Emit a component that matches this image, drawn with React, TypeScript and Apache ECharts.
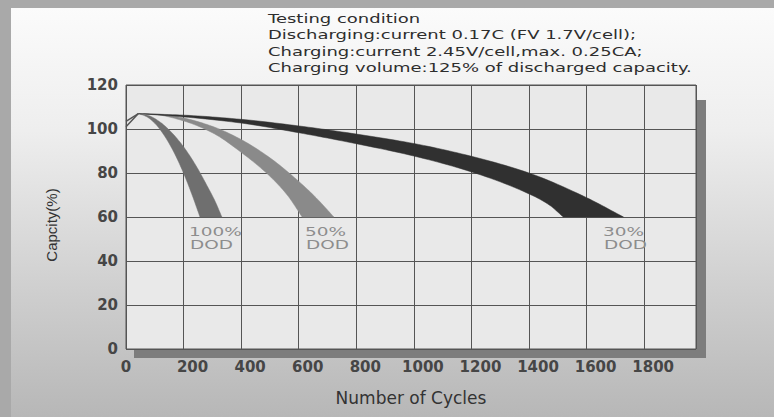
import React, { useEffect, useRef } from "react";
import * as echarts from "echarts";

// ---- data ----
const xTickLabels = [0, 200, 400, 600, 800, 1000, 1200, 1400, 1600, 1800];
const yTickLabels = [0, 20, 40, 60, 80, 100, 120];

const titleLines = [
  "Testing condition",
  "Discharging:current 0.17C (FV 1.7V/cell);",
  "Charging:current 2.45V/cell,max. 0.25CA;",
  "Charging volume:125% of discharged capacity.",
];

// initial rise (two thin lines) from cycle 0 to the peak
const riseUpper = [[0, 103.5], [43, 107]];
const riseLower = [[0, 101], [43, 107]];

// 100% DOD band
const dod100Outer = [[43, 107], [80, 106], [120, 103], [160, 98.2], [200, 91.9], [240, 84], [280, 74.6], [310, 67], [333, 60]];
const dod100Inner = [[43, 107], [70, 105.7], [100, 102.6], [130, 97.6], [165, 89.8], [200, 79.9], [230, 69.9], [257, 60]];

// 50% DOD band
const dod50Outer = [[43, 107], [100, 106.8], [192, 105.2], [300, 101.2], [400, 95.2], [500, 86.9], [600, 76.2], [660, 68.8], [722, 60]];
const dod50Inner = [[43, 107], [100, 106.6], [192, 104], [300, 98.3], [400, 89.4], [500, 78.5], [560, 70], [612, 60]];

// 30% DOD band
const dod30Outer = [[43, 107], [200, 106.3], [400, 104.4], [600, 101.4], [800, 97.7], [1000, 93.4], [1200, 87.6], [1400, 80], [1600, 68.8], [1728, 60]];
const dod30Inner = [[43, 107], [200, 105.5], [400, 102.7], [600, 98.3], [800, 93.3], [1000, 87.7], [1200, 80.5], [1400, 70.5], [1470, 65.5], [1519, 60]];

const dodLabels = ["100%", "50%", "30%"];

// ---- helpers ----
const measureCtx = typeof document !== "undefined" ? document.createElement("canvas").getContext("2d") : null;
function textWidth(t: string, font: string): number {
  if (!measureCtx) return t.length * 7;
  measureCtx.font = font;
  return measureCtx.measureText(t).width;
}

// monotone-ish cubic Hermite sampling in pixel space (rendering smoothness only)
function smoothPath(pts: number[][]): number[][] {
  const n = pts.length;
  if (n < 3) return pts.slice();
  const h: number[] = [];
  const d: number[] = [];
  for (let i = 0; i < n - 1; i++) {
    h.push(pts[i + 1][0] - pts[i][0]);
    d.push((pts[i + 1][1] - pts[i][1]) / h[i]);
  }
  const m: number[] = new Array(n);
  m[0] = d[0];
  m[n - 1] = d[n - 2];
  for (let i = 1; i < n - 1; i++) {
    if (d[i - 1] * d[i] <= 0) m[i] = 0;
    else {
      const w1 = 2 * h[i] + h[i - 1];
      const w2 = h[i] + 2 * h[i - 1];
      m[i] = (w1 + w2) / (w1 / d[i - 1] + w2 / d[i]);
    }
  }
  const out: number[][] = [];
  for (let i = 0; i < n - 1; i++) {
    const steps = 12;
    for (let k = 0; k < steps; k++) {
      const t = k / steps;
      const t2 = t * t;
      const t3 = t2 * t;
      const h00 = 2 * t3 - 3 * t2 + 1;
      const h10 = t3 - 2 * t2 + t;
      const h01 = -2 * t3 + 3 * t2;
      const h11 = t3 - t2;
      const x = pts[i][0] + t * h[i];
      const y = h00 * pts[i][1] + h10 * h[i] * m[i] + h01 * pts[i + 1][1] + h11 * h[i] * m[i + 1];
      out.push([x, y]);
    }
  }
  out.push(pts[n - 1]);
  return out;
}

function bandSeries(name: string, outer: number[][], inner: number[][], color: string) {
  return {
    type: "custom",
    name,
    coordinateSystem: "cartesian2d",
    silent: true,
    z: 3,
    data: [[0, 0]],
    renderItem: (_params: any, api: any) => {
      const top = smoothPath(outer.map((p) => api.coord(p)));
      const bottom = smoothPath(inner.map((p) => api.coord(p))).reverse();
      return {
        type: "polygon",
        shape: { points: top.concat(bottom) },
        style: { fill: color, stroke: color, lineWidth: 0.5 },
      };
    },
  };
}

const FONT = "DejaVu Sans";

export default function App() {
  const ref = useRef<HTMLDivElement>(null);

  useEffect(() => {
    document.body.style.margin = "0";
    if (!ref.current) return;
    const chart = echarts.init(ref.current, undefined, { renderer: "svg" });

    const W = 774;
    const H = 417;
    const gridLeft = 126;
    const gridTop = 85;
    const gridRight = 78;
    const gridBottom = 68;

    // title block
    const titleFont = `13px "${FONT}"`;
    const titleScale = 424 / textWidth(titleLines[3], titleFont);
    const titleY = [18, 34.5, 51, 67];

    // DOD labels
    const dodFont = `13px "${FONT}"`;
    const dodScale = 43 / textWidth("DOD", dodFont);
    const dodPos = [189, 305, 603];

    const graphics: any[] = [
      {
        type: "rect",
        z: -100,
        silent: true,
        shape: { x: 0, y: 0, width: W, height: H },
        style: { fill: "#a9a9a9" },
      },
      {
        type: "rect",
        z: -90,
        silent: true,
        shape: { x: 11, y: 8, width: W - 11, height: H - 8 },
        style: {
          fill: new echarts.graphic.LinearGradient(0, 0, 0, 1, [
            { offset: 0, color: "#fbfbfb" },
            { offset: 0.3, color: "#eeeeee" },
            { offset: 0.65, color: "#d2d2d2" },
            { offset: 1, color: "#b7b7b7" },
          ]),
        },
      },
      {
        type: "rect",
        z: -80,
        silent: true,
        shape: { x: gridLeft + 8, y: 100, width: W - gridRight - gridLeft + 2, height: H - gridBottom - 100 + 9 },
        style: { fill: "#7d7d7d" },
      },
    ];

    titleLines.forEach((t, i) => {
      graphics.push({
        type: "text",
        z: 10,
        silent: true,
        x: 268,
        y: titleY[i],
        scaleX: titleScale,
        style: {
          text: t,
          font: titleFont,
          fill: "#2e2e2e",
          textAlign: "left",
          textVerticalAlign: "middle",
        },
      });
    });

    dodLabels.forEach((t, i) => {
      graphics.push({
        type: "text",
        z: 10,
        silent: true,
        x: dodPos[i],
        y: 231.5,
        scaleX: dodScale,
        style: { text: t, font: dodFont, fill: "#8d8d8d", textAlign: "left", textVerticalAlign: "middle" },
      });
      graphics.push({
        type: "text",
        z: 10,
        silent: true,
        x: dodPos[i] + 1,
        y: 244.5,
        scaleX: dodScale,
        style: { text: "DOD", font: dodFont, fill: "#8d8d8d", textAlign: "left", textVerticalAlign: "middle" },
      });
    });

    const labelStyle = { fontFamily: FONT, fontSize: 15, fontWeight: "bold", color: "#464646" };

    const option: any = {
      animation: false,
      grid: {
        left: gridLeft,
        top: gridTop,
        right: gridRight,
        bottom: gridBottom,
        show: true,
        backgroundColor: "#e9e9e9",
        borderColor: "#555555",
        borderWidth: 1,
      },
      xAxis: {
        type: "value",
        min: 0,
        max: 1980,
        interval: 200,
        name: "Number of Cycles",
        nameLocation: "middle",
        nameGap: 40,
        nameTextStyle: { fontFamily: FONT, fontSize: 17, color: "#333333" },
        axisLine: { show: false },
        axisTick: { show: false },
        splitLine: { show: true, lineStyle: { color: "#555555", width: 1 } },
        axisLabel: {
          margin: 10,
          showMaxLabel: false,
          formatter: (v: number) => {
            if (!xTickLabels.includes(v)) return "";
            return v === 0 ? `{z|${v}}` : `{s|${v}}`;
          },
          rich: {
            z: { ...labelStyle },
            s: { ...labelStyle, padding: [0, 0, 0, 18] },
          },
        },
      },
      yAxis: {
        type: "value",
        min: 0,
        max: 120,
        interval: 20,
        name: "Capcity(%)",
        nameLocation: "middle",
        nameGap: 67,
        nameTextStyle: { fontFamily: "Liberation Sans", fontSize: 15, color: "#333333", padding: [0, 16, 0, 0] },
        axisLine: { show: false },
        axisTick: { show: false },
        splitLine: { show: true, lineStyle: { color: "#555555", width: 1 } },
        axisLabel: {
          margin: 8,
          ...labelStyle,
          formatter: (v: number) => (yTickLabels.includes(v) ? String(v) : ""),
        },
      },
      graphic: { elements: graphics },
      series: [
        {
          type: "line",
          data: riseUpper,
          symbol: "none",
          silent: true,
          z: 4,
          lineStyle: { color: "#555555", width: 1.5 },
        },
        {
          type: "line",
          data: riseLower,
          symbol: "none",
          silent: true,
          z: 4,
          lineStyle: { color: "#555555", width: 1.5 },
        },
        bandSeries("100% DOD", dod100Outer, dod100Inner, "#6f6f6f"),
        bandSeries("50% DOD", dod50Outer, dod50Inner, "#8a8a8a"),
        bandSeries("30% DOD", dod30Outer, dod30Inner, "#303030"),
      ],
    };

    chart.setOption(option);
    return () => {
      chart.dispose();
    };
  }, []);

  return <div ref={ref} style={{ width: 774, height: 417 }} />;
}
